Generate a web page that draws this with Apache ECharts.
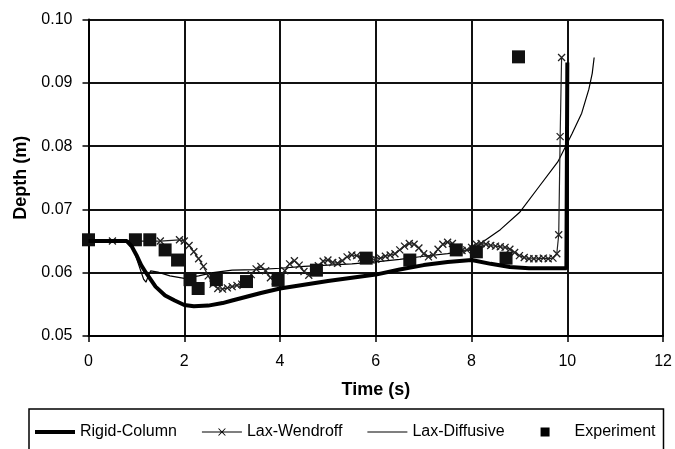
<!DOCTYPE html>
<html>
<head>
<meta charset="utf-8">
<script src="https://cdn.jsdelivr.net/npm/echarts@6/dist/echarts.min.js"></script>
<style>html,body{margin:0;padding:0;background:#fff}#c{width:675px;height:449px}</style>
</head>
<body>
<div id="c"></div>
<script>
var xTicks = [0, 2, 4, 6, 8, 10, 12];
var yTicks = [0.05, 0.06, 0.07, 0.08, 0.09, 0.10];
var seriesNames = ['Rigid-Column', 'Lax-Wendroff', 'Lax-Diffusive', 'Experiment'];

var rigidColumn = [[0,0.065],[0.8,0.065],[0.9,0.0642],[1.0,0.0628],[1.1,0.0612],[1.2,0.06],[1.4,0.0578],[1.6,0.0564],[1.8,0.0556],[2.0,0.0549],[2.2,0.0547],[2.5,0.0548],[2.8,0.0552],[3.0,0.0556],[3.3,0.0562],[3.6,0.0568],[4.0,0.0575],[4.5,0.0581],[5.0,0.0587],[5.5,0.0592],[6.0,0.0597],[6.5,0.0605],[7.0,0.0612],[7.5,0.0617],[8.0,0.062],[8.4,0.0614],[8.8,0.0609],[9.2,0.0607],[9.6,0.0607],[9.98,0.0607],[10.0,0.0932]];

var laxWendroff = [[0,0.065],[0.5,0.065],[1.0,0.065],[1.5,0.065],[1.9,0.0652],[2.0,0.065],[2.1,0.0643],[2.2,0.0633],[2.3,0.0622],[2.4,0.061],[2.5,0.0595],[2.6,0.0582],[2.7,0.0575],[2.8,0.0574],[2.9,0.0576],[3.0,0.0578],[3.1,0.058],[3.2,0.0582],[3.3,0.0588],[3.4,0.0597],[3.5,0.0606],[3.6,0.061],[3.7,0.0603],[3.8,0.0592],[3.9,0.0587],[4.0,0.0592],[4.1,0.0603],[4.2,0.0614],[4.3,0.0619],[4.4,0.0612],[4.5,0.0602],[4.6,0.0596],[4.7,0.0601],[4.8,0.0611],[4.9,0.0618],[5.0,0.062],[5.1,0.0616],[5.2,0.0615],[5.3,0.0619],[5.4,0.0625],[5.5,0.0628],[5.6,0.0627],[5.7,0.0623],[5.8,0.062],[5.9,0.062],[6.0,0.0621],[6.1,0.0623],[6.2,0.0626],[6.3,0.0628],[6.4,0.063],[6.5,0.0636],[6.6,0.0642],[6.7,0.0646],[6.8,0.0645],[6.9,0.0639],[7.0,0.063],[7.1,0.0625],[7.2,0.0628],[7.3,0.0637],[7.4,0.0645],[7.5,0.0648],[7.6,0.0646],[7.7,0.064],[7.8,0.0635],[7.9,0.0636],[8.0,0.064],[8.1,0.0645],[8.2,0.0646],[8.3,0.0645],[8.4,0.0643],[8.5,0.0642],[8.6,0.0641],[8.7,0.064],[8.8,0.0637],[8.9,0.0632],[9.0,0.0627],[9.1,0.0624],[9.2,0.0622],[9.3,0.0622],[9.4,0.0622],[9.5,0.0623],[9.6,0.0622],[9.7,0.0623],[9.78,0.063],[9.82,0.066],[9.85,0.0815],[9.88,0.094]];

var laxDiffusive = [[0,0.065],[0.85,0.065],[0.95,0.0635],[1.05,0.0612],[1.15,0.059],[1.2,0.0585],[1.25,0.0595],[1.3,0.0603],[1.45,0.0601],[1.7,0.0595],[2.0,0.0591],[2.3,0.0595],[2.6,0.0600],[3.0,0.0604],[3.5,0.0605],[4.0,0.0607],[4.5,0.061],[5.0,0.0612],[5.5,0.0614],[6.0,0.0617],[6.5,0.0621],[7.0,0.0626],[7.5,0.063],[8.0,0.0636],[8.3,0.0652],[8.6,0.0668],[9.0,0.0695],[9.4,0.0735],[9.8,0.0775],[10.1,0.082],[10.3,0.0852],[10.45,0.089],[10.52,0.0915],[10.56,0.094]];

var experiment = [[0,0.0652],[0.98,0.0652],[1.28,0.0652],[1.6,0.0636],[1.86,0.062],[2.12,0.0589],[2.29,0.0575],[2.67,0.0589],[3.3,0.0586],[3.96,0.0588],[4.76,0.0604],[5.8,0.0623],[6.71,0.062],[7.68,0.0636],[8.1,0.0633],[8.72,0.0623],[8.98,0.0941]];

var FONT = 'Liberation Sans';
var DOTS = 'M0,0L0.1,0L0.1,0.1Z M39.9,14L40,14L40,13.9Z ';
var iconRigid = 'path://' + DOTS + 'M0,5L40,5L40,9L0,9Z';
var iconLW = 'path://' + DOTS + 'M0,6.4L40,6.4L40,7.6L0,7.6Z M16,3.5L17.2,3.5L24,10.5L22.8,10.5Z M22.8,3.5L24,3.5L17.2,10.5L16,10.5Z';
var iconLD = 'path://' + DOTS + 'M0,6.4L40,6.4L40,7.6L0,7.6Z';
var iconExp = 'path://' + DOTS + 'M11,2.5L20,2.5L20,11.5L11,11.5Z';

var chart = echarts.init(document.getElementById('c'), null, {renderer: 'canvas'});
chart.setOption({
  animation: false,
  backgroundColor: '#fff',
  textStyle: {fontFamily: FONT, color: '#000'},
  grid: {left: 88.5, right: 11, top: 19.5, bottom: 113, containLabel: false},
  xAxis: {
    type: 'value', min: xTicks[0], max: xTicks[xTicks.length-1], interval: 2,
    name: 'Time (s)', nameLocation: 'middle', nameGap: 45,
    nameTextStyle: {fontFamily: FONT, fontSize: 18, fontWeight: 'bold', color: '#000'},
    axisLine: {show: true, lineStyle: {color: '#000', width: 2}},
    axisTick: {show: true, inside: false, length: 6, lineStyle: {color: '#000', width: 1.5}},
    axisLabel: {margin: 18, fontFamily: FONT, fontSize: 16, color: '#000'},
    splitLine: {show: true, lineStyle: {color: '#111', width: 2}}
  },
  yAxis: {
    type: 'value', min: yTicks[0], max: yTicks[yTicks.length-1], interval: 0.01,
    name: 'Depth (m)', nameLocation: 'middle', nameGap: 57, nameRotate: 90,
    nameTextStyle: {fontFamily: FONT, fontSize: 18, fontWeight: 'bold', color: '#000'},
    axisLine: {show: true, lineStyle: {color: '#000', width: 2}},
    axisTick: {show: true, inside: false, length: 6, lineStyle: {color: '#000', width: 1.5}},
    axisLabel: {margin: 16, fontFamily: FONT, fontSize: 16, color: '#000', formatter: function(v){return v.toFixed(2);}},
    splitLine: {show: true, lineStyle: {color: '#111', width: 2}}
  },
  legend: {
    show: true, left: 29, top: 409, orient: 'horizontal',
    padding: [15, 8, 30, 6], itemGap: 25, itemWidth: 40, itemHeight: 14,
    symbolKeepAspect: false,
    borderColor: '#000', borderWidth: 1.5, backgroundColor: '#fff',
    textStyle: {fontFamily: FONT, fontSize: 16, color: '#000'},
    data: [
      {name: seriesNames[0], icon: iconRigid, itemStyle: {color: '#000', borderWidth: 0}},
      {name: seriesNames[1], icon: iconLW, itemStyle: {color: '#000', borderWidth: 0}},
      {name: seriesNames[2], icon: iconLD, itemStyle: {color: '#000', borderWidth: 0}},
      {name: seriesNames[3], icon: iconExp, itemStyle: {color: '#000', borderWidth: 0}}
    ]
  },
  series: [
    {name: seriesNames[2], type: 'line', data: laxDiffusive, showSymbol: false, symbol: 'none',
      lineStyle: {color: '#000', width: 1.2}, itemStyle: {color: '#000'}, z: 3},
    {name: seriesNames[1], type: 'line', data: laxWendroff,
      symbol: 'path://M0,0L10,10M10,0L0,10', symbolSize: 7, showAllSymbol: true,
      lineStyle: {color: '#222', width: 1.2},
      itemStyle: {color: 'rgba(0,0,0,0)', borderColor: '#222', borderWidth: 1.3}, z: 4},
    {name: seriesNames[3], type: 'scatter', data: experiment, symbol: 'rect', symbolSize: 13,
      itemStyle: {color: '#111', opacity: 1}, z: 5},
    {name: seriesNames[0], type: 'line', data: rigidColumn, showSymbol: false, symbol: 'none',
      lineStyle: {color: '#000', width: 4}, itemStyle: {color: '#000'}, z: 6}
  ]
});
</script>
</body>
</html>
